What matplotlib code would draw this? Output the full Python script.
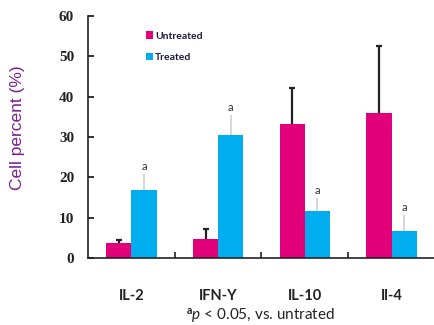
import numpy as np
import matplotlib
matplotlib.use("Agg")
import matplotlib.pyplot as plt

plt.rcParams['mathtext.fontset'] = 'custom'
plt.rcParams['mathtext.rm'] = 'Lato'
plt.rcParams['mathtext.it'] = 'Lato:italic'
plt.rcParams['mathtext.bf'] = 'Lato:bold'

categories = ["IL-2", "IFN-Y", "IL-10", "Il-4"]
untreated = [3.6, 4.7, 33.2, 36.0]
untreated_err = [0.9, 2.5, 9.0, 16.5]
treated = [16.9, 30.4, 11.6, 6.6]
treated_err = [4.0, 5.1, 3.2, 4.1]
sig_marks = ["a", "a", "a", "a"]

c_untr = "#E2007A"
c_tr = "#00AEEF"

fig = plt.figure(figsize=(4.34, 3.25), dpi=100)
ax = fig.add_axes([0.2028, 0.2062, 0.7972, 0.7446])

x = np.arange(len(categories))
w = 0.29
zeros = np.zeros(len(categories))
b1 = ax.bar(x - w / 2, untreated, w, color=c_untr, yerr=[zeros, untreated_err],
            error_kw=dict(ecolor="#222222", elinewidth=1.6, capsize=2, capthick=1.6), zorder=2)
b2 = ax.bar(x + w / 2, treated, w, color=c_tr, yerr=[zeros, treated_err],
            error_kw=dict(ecolor="#d6d6d6", elinewidth=1.4, capsize=0), zorder=2)
# only the upper half of the error bar is shown
caps = b1.errorbar.lines[1]
if len(caps) > 1:
    caps[0].set_visible(False)

for xi, v, e, m in zip(x, treated, treated_err, sig_marks):
    ax.annotate(m, (xi + w / 2, v + e), xytext=(0, 1.5), textcoords="offset points",
                ha="center", va="bottom", fontsize=8, family="Lato", color="#333333")

ax.set_ylim(0, 60)
ax.set_xlim(-0.5, 3.49)
ax.set_yticks(range(0, 61, 10))
ax.set_yticklabels([str(t) for t in range(0, 61, 10)],
                   family="Liberation Serif", fontweight="bold", fontsize=11, color="#222222")
ax.set_xticks(x)
ax.set_xticklabels(categories, family="Lato", fontweight="bold", fontsize=10.5, color="#222222")
ax.set_xticks([0.5, 1.5, 2.5], minor=True)
ax.tick_params(axis="x", which="major", length=0, pad=22)
ax.tick_params(axis="x", which="minor", direction="in", length=4, width=1.3, color="#333333")
ax.tick_params(axis="y", direction="in", length=4, width=1.3, pad=10, color="#222222")

for s in ["top", "right"]:
    ax.spines[s].set_visible(False)
for s in ["left", "bottom"]:
    ax.spines[s].set_linewidth(1.2)
    ax.spines[s].set_color("#222222")

leg = ax.legend(["Untreated", "Treated"], loc="upper left", bbox_to_anchor=(0.14, 0.975),
                frameon=False, handlelength=0.7, handleheight=0.7, handletextpad=0.2,
                labelspacing=1.2, prop=dict(family="Lato", weight="bold", size=7.5))
for t in leg.get_texts():
    t.set_color("#1a1a40")

fig.text(0.04, 0.606, "Cell percent (%)", rotation=90, ha="center", va="center",
         fontsize=12.5, family="Liberation Sans", color="#7B1F8F")
fig.text(0.6, 0.025, r"$^{\mathbf{a}}\mathit{p}$ < 0.05, vs. untrated", ha="center", va="center",
         fontsize=11, family="Lato", color="#222222")

fig.savefig("out.png", dpi=100)
